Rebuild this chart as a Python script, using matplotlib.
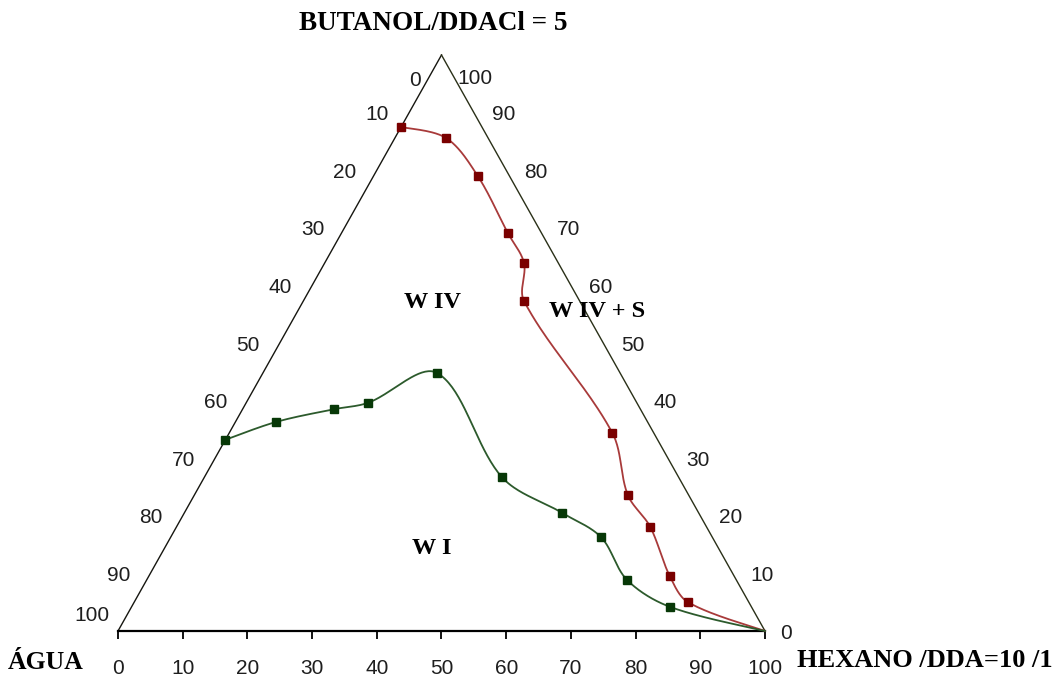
import numpy as np
import matplotlib
matplotlib.use("Agg")
import matplotlib.pyplot as plt

# Compositions (%) of the boundary points: butanol/DDACl share and hexane/DDA share,
# water being the remainder.
red_butanol = [87.5, 85.6, 79.0, 69.1, 63.9, 57.3, 34.4, 23.6, 18.1, 9.55, 5.0, 0.0]
red_hexane = [0.0, 7.9, 16.1, 25.7, 30.8, 34.1, 59.2, 67.0, 73.2, 80.5, 85.6, 100.0]

green_butanol = [33.2, 36.3, 38.5, 39.6, 44.8, 26.7, 20.5, 16.3, 8.9, 4.2, 0.0]
green_hexane = [0.0, 6.3, 14.1, 18.8, 26.9, 46.0, 58.4, 66.5, 74.2, 83.2, 100.0]

edge_ticks = list(range(0, 101, 10))
bottom_tick_labels = [str(v) for v in edge_ticks]

title_text = "BUTANOL/DDACl = 5"
left_vertex_text = "ÁGUA"
right_vertex_text = "HEXANO /DDA=10 /1"
region_labels = ["W IV", "W IV + S", "W I"]
# region label compositions: (butanol %, hexane %)
region_butanol = [57.0, 55.4, 14.4]
region_hexane = [20.1, 46.3, 41.3]

H = np.sqrt(3) / 2


def to_xy(butanol, hexane):
    b = np.asarray(butanol, float)
    h = np.asarray(hexane, float)
    return h + b / 2, b * H


def smooth(x, y, n=40):
    """Cubic Bezier smoothing with tangents scaled by the neighbouring chord lengths."""
    p = np.column_stack([x, y])
    d = np.hypot(*np.diff(p, axis=0).T)
    k = len(p)
    out_ctrl = np.zeros_like(p)
    in_ctrl = np.zeros_like(p)
    for i in range(k):
        if 0 < i < k - 1:
            D = (p[i + 1] - p[i - 1]) / (d[i - 1] + d[i])
            out_ctrl[i] = p[i] + D * d[i] / 3
            in_ctrl[i] = p[i] - D * d[i - 1] / 3
        elif i == 0:
            out_ctrl[i] = p[0] + (p[1] - p[0]) / 6
        else:
            in_ctrl[i] = p[-1] - (p[-1] - p[-2]) / 6
    t = np.linspace(0, 1, n)[:, None]
    out = []
    for i in range(k - 1):
        p0, p1, p2, p3 = p[i], out_ctrl[i], in_ctrl[i + 1], p[i + 1]
        seg = ((1 - t) ** 3) * p0 + 3 * ((1 - t) ** 2) * t * p1 + 3 * (1 - t) * t ** 2 * p2 + t ** 3 * p3
        out.append(seg if i == 0 else seg[1:])
    out = np.vstack(out)
    return out[:, 0], out[:, 1]


W, Hpx = 1058, 677
fig = plt.figure(figsize=(W / 100, Hpx / 100), dpi=100)
ax = fig.add_axes([118 / W, 46 / Hpx, 647 / W, 576 / Hpx])
ax.set_xlim(0, 100)
ax.set_ylim(0, 100 * H)

serif = "Liberation Serif"
sans = "Liberation Sans"
num_color = "#1e1e1e"
num_size = 15

# triangle sides
lx, ly = to_xy([0, 100], [0, 0])
rx, ry = to_xy([0, 100], [100, 0])
ax.plot(lx, ly, color="#161610", lw=1.0, clip_on=False)
ax.plot(rx, ry, color="#2a3018", lw=1.0, clip_on=False)

# bottom axis
for s in ["top", "left", "right"]:
    ax.spines[s].set_visible(False)
ax.spines["bottom"].set_linewidth(1.6)
ax.set_yticks([])
ax.set_xticks(edge_ticks)
ax.set_xticklabels(bottom_tick_labels, fontfamily=sans, fontsize=num_size, color=num_color)
ax.tick_params(axis="x", direction="out", length=6, width=1.3, pad=14)
ax.patch.set_visible(False)

# boundary curves
for bt, hx, lc, mc in [
    (red_butanol, red_hexane, "#a83a3a", "#7a0000"),
    (green_butanol, green_hexane, "#2c5a2c", "#073807"),
]:
    x, y = to_xy(bt, hx)
    sx, sy = smooth(x, y)
    ax.plot(sx, sy, color=lc, lw=1.3, clip_on=False, zorder=3)
    ax.plot(x[:-1], y[:-1], ls="none", marker="s", ms=5.5, color=mc, zorder=4, clip_on=False)

# left side labels (water %), right side labels (butanol %)
for v in edge_ticks:
    x, y = to_xy(100 - v, 0)
    if v == 0:
        off = (-19, -18)
    elif v == 100:
        off = (-19, 11)
    else:
        off = (-23, -1.5)
    ax.annotate(str(v), (x, y), xytext=off, textcoords="offset points",
                ha="center", va="center", fontfamily=sans, fontsize=num_size, color=num_color)

    x, y = to_xy(v, 100 - v)
    if v == 100:
        off = (24, -17)
    elif v == 0:
        off = (15, -1.5)
    else:
        off = (21.5, -1.5)
    ax.annotate(str(v), (x, y), xytext=off, textcoords="offset points",
                ha="center", va="center", fontfamily=sans, fontsize=num_size, color=num_color)

# vertex titles
ax.annotate(title_text, to_xy(100, 0), xytext=(-6, 23), textcoords="offset points",
            ha="center", va="center", fontfamily=serif, fontweight="bold", fontsize=19.5)
ax.annotate(left_vertex_text, to_xy(0, 0), xytext=(-52, -23), textcoords="offset points",
            ha="center", va="center", fontfamily=serif, fontweight="bold", fontsize=18.5)
ax.annotate(right_vertex_text, to_xy(0, 100), xytext=(23, -21), textcoords="offset points",
            ha="left", va="center", fontfamily=serif, fontweight="bold", fontsize=19)

# region names
for lab, b, h in zip(region_labels, region_butanol, region_hexane):
    ax.text(*to_xy(b, h), lab, ha="center", va="center", fontfamily=serif,
            fontweight="bold", fontsize=17.5)

fig.savefig("out.png", dpi=100)
